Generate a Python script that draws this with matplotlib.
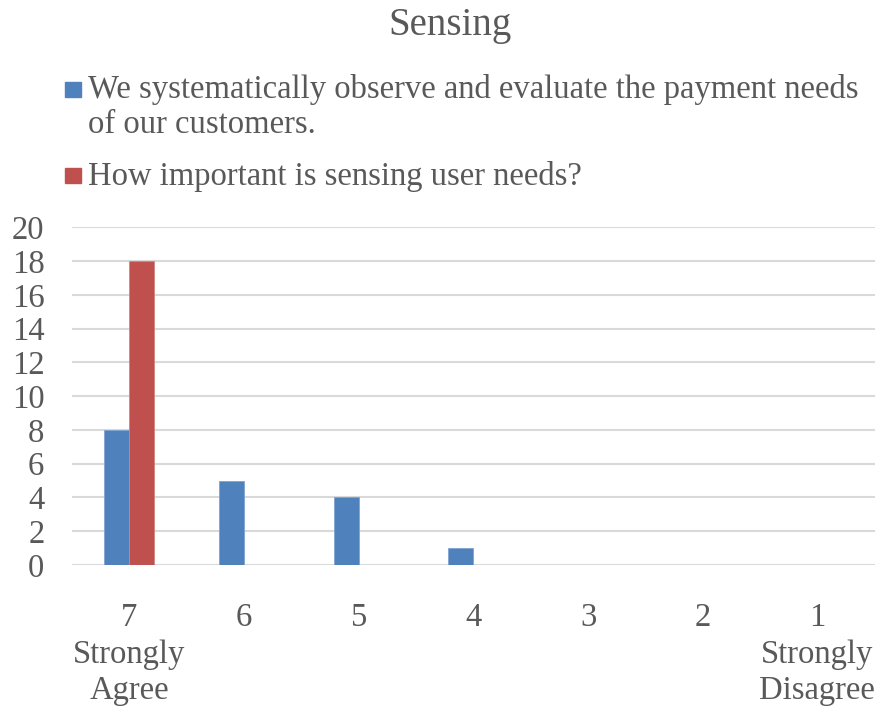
import matplotlib.pyplot as plt
from matplotlib.patches import Rectangle
import numpy as np

plt.rcParams["font.family"] = ["Liberation Serif", "DejaVu Serif"]

categories = ["7\nStrongly\nAgree", "6", "5", "4", "3", "2", "1\nStrongly\nDisagree"]
observe = [8, 5, 4, 1, 0, 0, 0]
importance = [18, 0, 0, 0, 0, 0, 0]
series_names = [
    "We systematically observe and evaluate the payment needs\nof our customers.",
    "How important is sensing user needs?",
]
yticks = list(range(0, 21, 2))

BLUE = "#4f81bd"
RED = "#c0504d"
GREY = "#595959"
FS = 23.5

fig = plt.figure(figsize=(8.8, 7.08), dpi=100)
ax = fig.add_axes([0.082, 0.202, 0.912, 0.477])

x = np.arange(len(categories))
w = 0.218
ax.bar(x - w / 2, observe, w, color=BLUE, edgecolor="#7fa3d1", linewidth=0.6, zorder=3)
ax.bar(x + w / 2, importance, w, color=RED, edgecolor="#d08583", linewidth=0.6, zorder=3)

ax.set_xlim(-0.5, len(categories) - 0.5)
ax.set_ylim(0, 20)
ax.set_yticks(yticks)
ax.set_yticklabels([str(t) for t in yticks], fontsize=FS, color=GREY)
ax.set_xticks(x)
ax.set_xticklabels(categories, fontsize=FS, color=GREY, linespacing=1.26)
ax.tick_params(axis="both", length=0)
ax.tick_params(axis="x", pad=27)
ax.tick_params(axis="y", pad=20)
ax.grid(axis="y", color="#d9d9d9", linewidth=1.5, zorder=0)
ax.set_axisbelow(True)
for s in ax.spines.values():
    s.set_visible(False)

fig.text(0.511, 0.9506, "Sensing", ha="center", va="baseline", fontsize=28, color=GREY)

# legend drawn by hand so the marker sits beside the first text line;
# each wrapped line gets its own baseline
line_step = 35 / 708
legend_rows = [(0.8736, 0.8616, BLUE, series_names[0]),
               (0.7528, 0.7387, RED, series_names[1])]
for ym, yb, col, label in legend_rows:
    fig.patches.append(Rectangle((0.0739, ym - 0.0106), 0.018, 0.0212,
                                 transform=fig.transFigure, color=col, figure=fig))
    for i, line in enumerate(label.split("\n")):
        fig.text(0.1, yb - i * line_step, line, ha="left", va="baseline",
                 fontsize=FS, color=GREY)

fig.savefig("out.png", dpi=100)
